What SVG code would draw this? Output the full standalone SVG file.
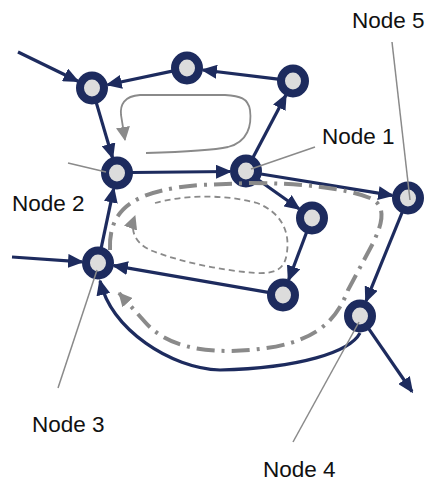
<svg xmlns="http://www.w3.org/2000/svg" width="426" height="481" viewBox="0 0 426 481">
<style>
.edge{fill:none;stroke:#1d2b5e;stroke-width:3.2;marker-end:url(#ah)}
.node ellipse{fill:#dcdcdc;stroke:#1d2b5e;stroke-width:8}
.loop{fill:none;stroke:#8a8a8a;marker-end:url(#gh)}
.leader{stroke:#8a8a8a;stroke-width:1.5;fill:none}
.lbl{font-family:"Liberation Sans",Arial,sans-serif;font-size:22.5px;fill:#111}
</style>
<defs>
<marker id="ah" markerUnits="userSpaceOnUse" markerWidth="16" markerHeight="14" viewBox="0 0 16 14" refX="14" refY="7" orient="auto"><path d="M0,0 L16,7 L0,14 z" fill="#1d2b5e"/></marker>
<marker id="gh" markerUnits="userSpaceOnUse" markerWidth="14" markerHeight="14" viewBox="0 0 14 14" refX="13" refY="7" orient="auto"><path d="M0,0 L14,7 L0,14 z" fill="#8a8a8a"/></marker>
</defs>
<rect width="426" height="481" fill="#fff"/>
<g id="connectors">
<line class="edge" x1="18" y1="52" x2="77.6" y2="81"/>
<line class="edge" x1="172.3" y1="71.1" x2="107.7" y2="84.7"/>
<line class="edge" x1="278" y1="79.2" x2="202.9" y2="70"/>
<line class="edge" x1="96.2" y1="102.4" x2="112.5" y2="157.7"/>
<line class="edge" x1="132" y1="172.5" x2="230" y2="171.5"/>
<line class="edge" x1="253" y1="157.6" x2="285.8" y2="95.3"/>
<line class="edge" x1="261" y1="174" x2="392.2" y2="195.4"/>
<line class="edge" x1="258.5" y1="180" x2="299" y2="208.8"/>
<line class="edge" x1="306.7" y1="232" x2="288.6" y2="280"/>
<line class="edge" x1="268.2" y1="292.4" x2="113.8" y2="265.7"/>
<line class="edge" x1="101.1" y1="248.3" x2="113.7" y2="188.6"/>
<line class="edge" x1="12" y1="257" x2="82" y2="261.9"/>
<line class="edge" x1="402.3" y1="212" x2="366" y2="301.2"/>
<line class="edge" x1="368.5" y1="328.4" x2="412" y2="391.5"/>
<path class="edge" d="M360,333 C350,352 300,368 220,370 C170,368 112,330 100,281"/>
</g>
<g id="node-a" class="node"><ellipse cx="92" cy="88" rx="12" ry="12.5"/></g>
<g id="node-b" class="node"><ellipse cx="187" cy="68" rx="12" ry="12.5"/></g>
<g id="node-c" class="node"><ellipse cx="293" cy="81" rx="12" ry="12.5"/></g>
<g id="node2" class="node"><ellipse cx="117" cy="173" rx="12" ry="12.5"/></g>
<g id="node1" class="node"><ellipse cx="246" cy="171" rx="12" ry="12.5"/></g>
<g id="node5" class="node"><ellipse cx="408" cy="198" rx="12" ry="12.5"/></g>
<g id="node-g" class="node"><ellipse cx="312" cy="218" rx="12" ry="12.5"/></g>
<g id="node3" class="node"><ellipse cx="98" cy="263" rx="12" ry="12.5"/></g>
<g id="node-i" class="node"><ellipse cx="283" cy="295" rx="12" ry="12.5"/></g>
<g id="node4" class="node"><ellipse cx="360" cy="316" rx="12" ry="12.5"/></g>
<g id="loops">
<path class="loop" stroke-width="1.8" d="M146,153 C180,152 210,151 228,147 C248,142 252,125 250,110 C248,98 240,96 225,95 L140,95 C124,96 120,105 121,115 L125,140"/>
<path class="loop" stroke-width="1.8" stroke-dasharray="6 4" d="M155,203 C180,196 220,193 257,203 C280,212 290,230 287,252 C285,270 275,274 255,273 C220,270 180,262 150,250 C140,245 128,235 135,216"/>
<path class="loop" stroke-width="4" stroke-dasharray="18 7 3 7" d="M110,250 C108,205 140,190 200,185 L250,183 C300,183 345,188 370,198 C388,206 382,225 372,245 L348,290 C335,325 310,345 250,350 C200,354 165,345 145,322 L119,293"/>
</g>
<g id="labels">
<line class="leader" x1="68" y1="163" x2="106" y2="172"/>
<line class="leader" x1="315" y1="147" x2="251" y2="169"/>
<line class="leader" x1="392" y1="42" x2="410" y2="200"/>
<line class="leader" x1="58" y1="388" x2="97" y2="270"/>
<line class="leader" x1="293" y1="442" x2="359" y2="322"/>
<text class="lbl" x="352" y="28">Node 5</text>
<text class="lbl" x="322" y="144">Node 1</text>
<text class="lbl" x="12" y="211">Node 2</text>
<text class="lbl" x="32" y="432">Node 3</text>
<text class="lbl" x="263" y="477">Node 4</text>
</g>
</svg>
